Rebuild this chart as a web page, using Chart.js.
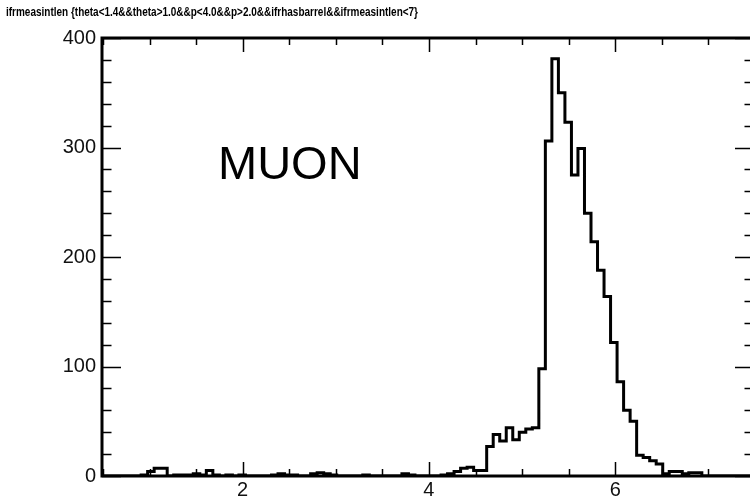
<!DOCTYPE html>
<html>
<head>
<meta charset="utf-8">
<script src="https://cdn.jsdelivr.net/npm/chart.js"></script>
<style>
  html, body { margin: 0; padding: 0; background: #fff; overflow: hidden; }
</style>
</head>
<body>
<canvas id="ifrChart" width="760" height="500"></canvas>
<script>
// histogram: 100 bins from 0.49 to 7.49
const binLow = 0.49;
const binWidth = 0.07;
const counts = [
  0, 0, 0, 0, 0, 0, 1, 4, 7, 7,
  0, 1, 1, 1, 2, 1, 5, 1, 0, 1,
  0, 1, 0, 0, 0, 0, 1, 2, 1, 1,
  0, 0, 2, 3, 2, 1, 0, 0, 0, 0,
  1, 0, 0, 0, 0, 0, 2, 1, 0, 0,
  0, 0, 1, 2, 4, 7, 8, 5, 5, 27,
  38, 32, 44, 33, 40, 43, 44, 98, 306, 381,
  350, 323, 275, 299, 240, 214, 188, 164, 122, 86,
  60, 50, 19, 17, 14, 11, 2, 4, 4, 2,
  3, 3, 0, 0, 0, 0, 0, 0, 0, 0
];
const xTickLabels = [2, 4, 6];
const yTickLabels = [0, 100, 200, 300, 400];
const titleText = 'ifrmeasintlen {theta<1.4&&theta>1.0&&p<4.0&&p>2.0&&ifrhasbarrel&&ifrmeasintlen<7}';
const labelText = 'MUON';

const binHigh = binLow + counts.length * binWidth;
const points = counts.map((c, i) => ({ x: binLow + i * binWidth, y: c }));
points.push({ x: binHigh, y: counts[counts.length - 1] });

// frame, inner ticks (ROOT style), title and the MUON label
const rootFrame = {
  id: 'rootFrame',
  afterDraw(chart) {
    const { ctx, chartArea: a, scales } = chart;
    const xs = scales.x, ys = scales.y;
    ctx.save();
    ctx.strokeStyle = '#000';
    ctx.lineWidth = 1.5;
    for (let v = 0.5; v < binHigh; v += 0.5) {
      const px = Math.round(xs.getPixelForValue(v)) + 0.5;
      const len = v % 2 === 0 ? 14 : 7;
      ctx.beginPath();
      ctx.moveTo(px, a.bottom); ctx.lineTo(px, a.bottom - len);
      ctx.moveTo(px, a.top); ctx.lineTo(px, a.top + len);
      ctx.stroke();
    }
    for (let v = 0; v <= 400; v += 20) {
      const py = Math.round(ys.getPixelForValue(v)) + 0.5;
      const len = v % 100 === 0 ? 19 : 9.5;
      ctx.beginPath();
      ctx.moveTo(a.left, py); ctx.lineTo(a.left + len, py);
      ctx.moveTo(a.right, py); ctx.lineTo(a.right - len, py);
      ctx.stroke();
    }
    ctx.lineWidth = 3;
    ctx.strokeRect(a.left, a.top, a.right - a.left, a.bottom - a.top);

    // title is a narrow font in the original, squeeze it to the same width
    ctx.fillStyle = '#000';
    ctx.textBaseline = 'middle';
    ctx.textAlign = 'left';
    ctx.font = 'bold 12px "Liberation Sans", Arial, sans-serif';
    const w = ctx.measureText(titleText).width;
    ctx.save();
    ctx.translate(6, 13);
    ctx.scale(412 / w, 1);
    ctx.fillText(titleText, 0, 0);
    ctx.restore();

    ctx.textBaseline = 'alphabetic';
    ctx.font = '47px "Liberation Sans", Arial, sans-serif';
    ctx.fillText(labelText, 218, 179);
    ctx.restore();
  }
};

const ctx = document.getElementById('ifrChart').getContext('2d');
new Chart(ctx, {
  type: 'line',
  data: {
    datasets: [{
      data: points,
      stepped: 'before',
      borderColor: '#000',
      borderWidth: 3,
      pointRadius: 0,
      fill: false
    }]
  },
  options: {
    responsive: false,
    animation: false,
    layout: { padding: { top: 38, right: 6, bottom: 0, left: 0 } },
    plugins: {
      legend: { display: false },
      tooltip: { enabled: false }
    },
    scales: {
      x: {
        type: 'linear',
        min: binLow,
        max: binHigh,
        grid: { display: false, drawTicks: false },
        border: { display: false },
        afterFit: s => { s.height = 24; },
        afterBuildTicks: s => { s.ticks = xTickLabels.map(v => ({ value: v })); },
        ticks: {
          autoSkip: false,
          maxRotation: 0,
          padding: 2,
          color: '#111',
          font: { family: '"Liberation Sans", Arial, sans-serif', size: 20 }
        }
      },
      y: {
        min: 0,
        max: 400,
        grid: { display: false, drawTicks: false },
        border: { display: false },
        afterFit: s => { s.width = 102; },
        afterBuildTicks: s => { s.ticks = yTickLabels.map(v => ({ value: v })); },
        ticks: {
          padding: 6,
          color: '#111',
          font: { family: '"Liberation Sans", Arial, sans-serif', size: 20 }
        }
      }
    }
  },
  plugins: [rootFrame]
});
</script>
</body>
</html>
